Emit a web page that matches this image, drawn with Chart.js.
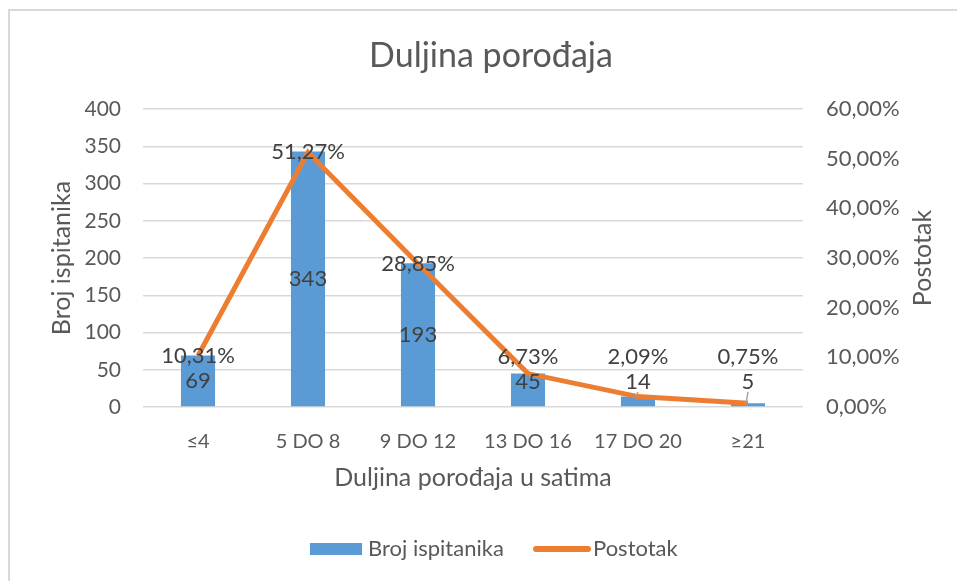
<!DOCTYPE html>
<html>
<head>
<meta charset="utf-8">
<script src="https://cdn.jsdelivr.net/npm/chart.js@4"></script>
<style>
    html, body { margin: 0; padding: 0; background: #fff; }
    #wrap { position: relative; width: 957px; height: 581px; overflow: hidden; }
    #frame { position: absolute; left: 8px; top: 9px; width: 1000px; height: 700px;
             border-top: 2px solid #d9d9d9; border-left: 2px solid #d9d9d9; }
    canvas { position: absolute; left: 0; top: 0; }
</style>
</head>
<body>
<div id="wrap">
    <div id="frame"></div>
    <canvas id="chart" width="957" height="581"></canvas>
</div>
<script>
// Data
const categories = ['≤4', '5 DO 8', '9 DO 12', '13 DO 16', '17 DO 20', '≥21'];
const counts = [69, 343, 193, 45, 14, 5];
const percents = [10.31, 51.27, 28.85, 6.73, 2.09, 0.75];
const countTicks = [0, 50, 100, 150, 200, 250, 300, 350, 400];
const percentTicks = [0, 10, 20, 30, 40, 50, 60];

const FONT = 'Lato, "Open Sans", sans-serif';
const TEXT = '#595959';
const LABEL = '#404040';

function fmtPct(v) {
    return v.toFixed(2).replace('.', ',') + '%';
}

// Title, axis titles, data labels, legend
const decorations = {
    id: 'decorations',
    afterDatasetsDraw(chart) {
        const ctx = chart.ctx;
        const area = chart.chartArea;
        const yScale = chart.scales.y;
        const zeroY = yScale.getPixelForValue(0);
        ctx.save();

        // title
        ctx.fillStyle = TEXT;
        ctx.textAlign = 'center';
        ctx.textBaseline = 'middle';
        ctx.font = '34px ' + FONT;
        ctx.fillText('Duljina porođaja', 491, 56);

        // axis titles
        ctx.font = '25px ' + FONT;
        ctx.fillText('Duljina porođaja u satima', (area.left + area.right) / 2, 478);
        ctx.save();
        ctx.translate(62, 258);
        ctx.rotate(-Math.PI / 2);
        ctx.fillText('Broj ispitanika', 0, 0);
        ctx.restore();
        ctx.save();
        ctx.translate(923, 258);
        ctx.rotate(-Math.PI / 2);
        ctx.fillText('Postotak', 0, 0);
        ctx.restore();

        // bar labels
        ctx.font = '22px ' + FONT;
        const barMeta = chart.getDatasetMeta(0);
        barMeta.data.forEach((bar, i) => {
            const center = (bar.y + bar.base) / 2;
            const y = Math.min(center, zeroY - 25);
            if (bar.y > y + 12) {
                ctx.strokeStyle = '#a6a6a6';
                ctx.lineWidth = 1.5;
                ctx.beginPath();
                ctx.moveTo(bar.x, y + 10);
                ctx.lineTo(bar.x - 2, bar.y);
                ctx.stroke();
            }
            ctx.fillStyle = LABEL;
            ctx.fillText(String(counts[i]), bar.x, y);
        });

        // line labels
        const lineMeta = chart.getDatasetMeta(1);
        lineMeta.data.forEach((pt, i) => {
            const y = Math.min(pt.y, zeroY - 50);
            ctx.fillStyle = LABEL;
            ctx.fillText(fmtPct(percents[i]), pt.x, y);
        });

        // legend
        ctx.font = '22px ' + FONT;
        ctx.textAlign = 'left';
        ctx.fillStyle = '#5b9bd5';
        ctx.fillRect(310, 543, 52, 12);
        ctx.fillStyle = TEXT;
        ctx.fillText('Broj ispitanika', 368, 549);
        ctx.strokeStyle = '#ed7d31';
        ctx.lineWidth = 6;
        ctx.lineCap = 'round';
        ctx.beginPath();
        ctx.moveTo(536, 549);
        ctx.lineTo(588, 549);
        ctx.stroke();
        ctx.fillText('Postotak', 593, 549);

        ctx.restore();
    }
};

new Chart(document.getElementById('chart'), {
    type: 'bar',
    data: {
        labels: categories,
        datasets: [{
            label: 'Broj ispitanika',
            data: counts,
            backgroundColor: '#5b9bd5',
            yAxisID: 'y',
            order: 2,
            categoryPercentage: 1,
            barPercentage: 0.31
        }, {
            type: 'line',
            label: 'Postotak',
            data: percents,
            borderColor: '#ed7d31',
            borderWidth: 5,
            pointRadius: 0,
            tension: 0,
            yAxisID: 'y1',
            order: 1
        }]
    },
    options: {
        responsive: false,
        animation: false,
        layout: { padding: { top: 109, left: 0, right: 0, bottom: 0 } },
        plugins: {
            legend: { display: false },
            title: { display: false },
            tooltip: { enabled: false }
        },
        scales: {
            x: {
                grid: { display: false },
                border: { display: false },
                ticks: { color: TEXT, font: { family: FONT, size: 20 }, padding: 15 },
                afterFit(scale) { scale.height = 174; }
            },
            y: {
                position: 'left',
                min: countTicks[0],
                max: countTicks[countTicks.length - 1],
                afterBuildTicks(scale) { scale.ticks = countTicks.map(v => ({ value: v })); },
                grid: { color: '#d9d9d9', lineWidth: 1.5, drawTicks: false },
                border: { display: false },
                ticks: { color: TEXT, font: { family: FONT, size: 21 }, padding: 22 },
                afterFit(scale) { scale.width = 143; }
            },
            y1: {
                position: 'right',
                min: percentTicks[0],
                max: percentTicks[percentTicks.length - 1],
                afterBuildTicks(scale) { scale.ticks = percentTicks.map(v => ({ value: v })); },
                grid: { display: false, drawTicks: false },
                border: { display: false },
                ticks: {
                    color: TEXT,
                    font: { family: FONT, size: 22 },
                    padding: 23,
                    callback: v => fmtPct(v)
                },
                afterFit(scale) { scale.width = 154; }
            }
        }
    },
    plugins: [decorations]
});
</script>
</body>
</html>
